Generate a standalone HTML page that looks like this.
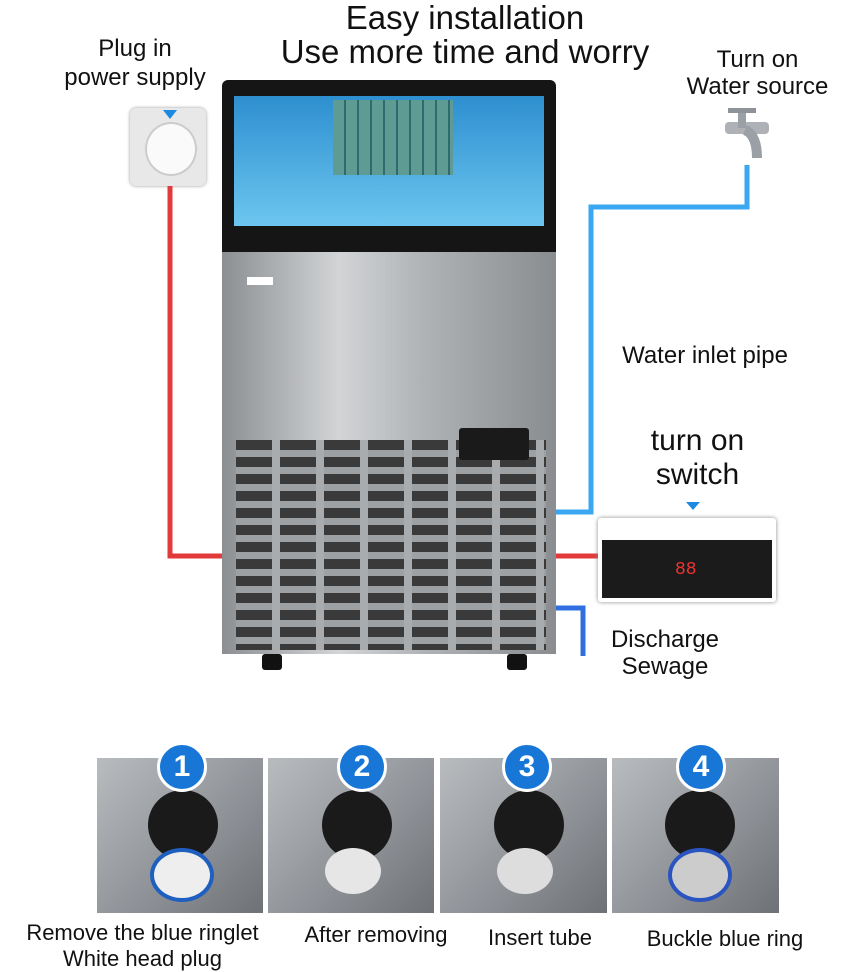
<!DOCTYPE html>
<html><head><meta charset="utf-8">
<style>
body{margin:0;width:843px;height:972px;background:#fff;position:relative;overflow:hidden;font-family:"Liberation Sans",sans-serif;color:#111}
.a{position:absolute}
.t{position:absolute;text-align:center;white-space:nowrap}
.ph{position:absolute;top:758px;height:155px;background:linear-gradient(135deg,#b9bcbf,#8d9196 60%,#6e7276)}
.num{position:absolute;top:742px;width:44px;height:44px;border-radius:50%;background:#1877d6;border:3px solid #fff;color:#fff;font:bold 30px "Liberation Sans",sans-serif;text-align:center;line-height:44px}
.grom{position:absolute;width:70px;height:70px;border-radius:50%;background:#1a1a1a;top:790px}
.fit{position:absolute;width:56px;height:46px;border-radius:50%;top:848px}
</style></head><body>
<div class="t" style="left:245px;width:440px;top:1px;font-size:33px;line-height:34px">Easy installation<br>Use more time and worry</div>
<div class="t" style="left:40px;width:190px;top:34px;font-size:24px;line-height:29px">Plug in<br>power supply</div>
<div class="t" style="left:670px;width:175px;top:46px;font-size:24px;line-height:27px">Turn on<br>Water source</div>
<div class="t" style="left:605px;width:200px;top:342px;font-size:24px">Water inlet pipe</div>
<div class="t" style="left:620px;width:155px;top:424px;font-size:30px;line-height:34px">turn on<br>switch</div>
<div class="t" style="left:600px;width:130px;top:626px;font-size:24px;line-height:27px">Discharge<br>Sewage</div>

<div class="a" style="left:130px;top:108px;width:76px;height:78px;background:#e8e8e8;border-radius:6px;box-shadow:0 0 3px #999"></div>
<div class="a" style="left:145px;top:122px;width:48px;height:50px;background:#fafafa;border-radius:50%;border:2px solid #ccc"></div>
<div class="a" style="left:163px;top:110px;width:0;height:0;border-left:7px solid transparent;border-right:7px solid transparent;border-top:9px solid #1b8ae0"></div>

<svg class="a" style="left:0;top:0" width="843" height="972">
<polyline points="170,186 170,556 226,556" fill="none" stroke="#e23a3a" stroke-width="5"/>
<polyline points="554,556 600,556" fill="none" stroke="#e23a3a" stroke-width="5"/>
<polyline points="747,165 747,207 591,207 591,512 556,512" fill="none" stroke="#3aa7f0" stroke-width="5"/>
<polyline points="556,608 583,608 583,656" fill="none" stroke="#2f6fe0" stroke-width="5"/>
<polygon points="686,502 700,502 693,510" fill="#1b8ae0"/>
<rect x="725" y="122" width="44" height="12" rx="4" fill="#aeb2b6"/>
<rect x="738" y="110" width="8" height="18" fill="#9aa0a5"/>
<rect x="728" y="108" width="28" height="5" fill="#8d9398"/>
<path d="M745 130 q12 5 12 28" stroke="#9aa0a5" stroke-width="10" fill="none"/>
</svg>

<div class="a" style="left:222px;top:80px;width:334px;height:172px;background:#151515;border-radius:6px 6px 0 0"></div>
<div class="a" style="left:234px;top:96px;width:310px;height:130px;background:linear-gradient(#2e8fd0,#6cc6ef);"></div>
<div class="a" style="left:333px;top:100px;width:120px;height:75px;background:repeating-linear-gradient(90deg,#5d9b93 0 11px,#2e6a70 11px 13px)"></div>
<div class="a" style="left:222px;top:252px;width:334px;height:402px;background:linear-gradient(90deg,#8c8f92,#d2d4d6 35%,#b0b3b6 60%,#8a8d90)"></div>
<div class="a" style="left:247px;top:277px;width:26px;height:8px;background:#fff"></div>
<div class="a" style="left:236px;top:440px;width:310px;height:210px;background:repeating-linear-gradient(180deg,#3a3a3a 0 10px,#9ea1a4 10px 17px)"></div>
<div class="a" style="left:236px;top:440px;width:310px;height:210px;background:repeating-linear-gradient(90deg,transparent 0 36px,#a9acaf 36px 44px)"></div>
<div class="a" style="left:459px;top:428px;width:70px;height:32px;background:#1a1a1a;border-radius:3px"></div>
<div class="a" style="left:262px;top:654px;width:20px;height:16px;background:#111;border-radius:3px"></div>
<div class="a" style="left:507px;top:654px;width:20px;height:16px;background:#111;border-radius:3px"></div>

<div class="a" style="left:598px;top:518px;width:178px;height:84px;background:#fff;box-shadow:0 0 4px #888;border-radius:3px"></div>
<div class="a" style="left:602px;top:540px;width:170px;height:58px;background:#1b1b1b"></div>
<div class="a" style="left:675px;top:560px;width:28px;height:24px;color:#e33;font:18px 'Liberation Mono',monospace">88</div>

<div class="ph" style="left:97px;width:166px"></div>
<div class="ph" style="left:268px;width:166px"></div>
<div class="ph" style="left:440px;width:167px"></div>
<div class="ph" style="left:612px;width:167px"></div>
<div class="grom" style="left:148px"></div><div class="grom" style="left:322px"></div><div class="grom" style="left:494px"></div><div class="grom" style="left:665px"></div>
<div class="fit" style="left:150px;background:#eee;border:4px solid #1e5fc0"></div>
<div class="fit" style="left:325px;background:#e6e6e6"></div>
<div class="fit" style="left:497px;background:#ddd"></div>
<div class="fit" style="left:668px;background:#ccc;border:4px solid #2a55c0"></div>
<div class="num" style="left:157px">1</div>
<div class="num" style="left:337px">2</div>
<div class="num" style="left:502px">3</div>
<div class="num" style="left:676px">4</div>

<div class="t" style="left:0px;width:285px;top:920px;font-size:22px;line-height:26px">Remove the blue ringlet<br>White head plug</div>
<div class="t" style="left:286px;width:180px;top:922px;font-size:22px">After removing</div>
<div class="t" style="left:470px;width:140px;top:925px;font-size:22px">Insert tube</div>
<div class="t" style="left:625px;width:200px;top:926px;font-size:22px">Buckle blue ring</div>
</body></html>
